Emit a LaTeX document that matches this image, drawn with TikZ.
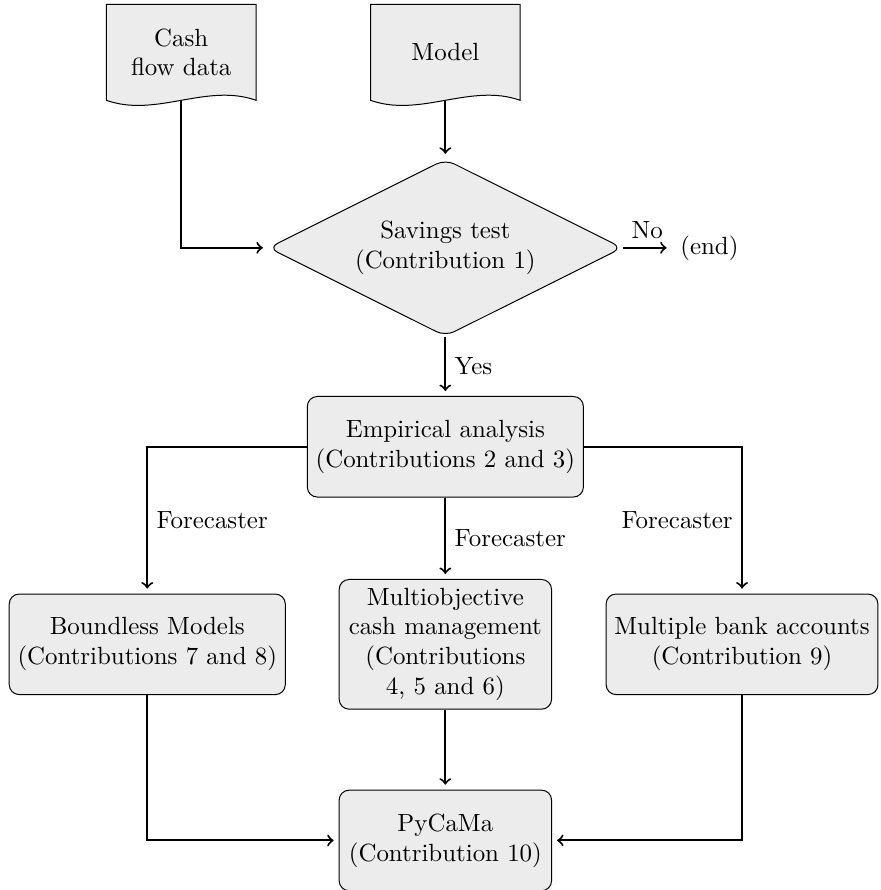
\documentclass[tikz,border=0pt]{standalone}
\usetikzlibrary{shapes.geometric,backgrounds}

\begin{document}
\begin{tikzpicture}[
    box/.style={draw, rounded corners=4pt, fill=gray!15, align=center,
        minimum width=3cm, minimum height=1.42cm},
    doc/.style={align=center, minimum width=2.1cm, minimum height=1.34cm},
    decision/.style={draw, diamond, aspect=2, rounded corners=4pt, fill=gray!15,
        align=center, inner sep=1pt, minimum width=5cm, minimum height=2.5cm},
    flow/.style={->, thick, shorten >=2pt}]
\useasboundingbox (0,0) rectangle (12.43,-12.57);

% the two inputs, drawn as documents
\node[doc] (cash)  at (2.56,-0.74) {Cash\\flow data};
\node[doc] (model) at (6.29,-0.74) {Model};
\begin{pgfonlayer}{background}
\foreach \d in {cash,model}
    \draw[fill=gray!15] (\d.south west) -- (\d.north west) -- (\d.north east)
        -- (\d.south east) .. controls +(-0.7,0.25) and +(0.7,-0.25) .. (\d.south west) -- cycle;
\end{pgfonlayer}

% the test
\node[decision] (test) at (6.29,-3.50) {Savings test\\(Contribution 1)};
\node (end) at (10.02,-3.50) {(end)};

% analysis and what follows from it
\node[box] (emp)    at (6.29,-6.31)  {Empirical analysis\\(Contributions 2 and 3)};
\node[box] (bound)  at (2.08,-9.10)  {Boundless Models\\(Contributions 7 and 8)};
\node[box] (multi)  at (6.29,-9.10)  {Multiobjective\\cash management\\(Contributions\\4, 5 and 6)};
\node[box] (bank)   at (10.48,-9.10) {Multiple bank accounts\\(Contribution 9)};
\node[box] (pycama) at (6.29,-11.87) {PyCaMa\\(Contribution 10)};

% connectors
\draw[flow] (cash) |- (test);
\draw[flow] (model) -- (test);
\draw[flow] (test) -- node[above] {No} (end);
\draw[flow] (test) -- node[right] {Yes} (emp);

\draw[flow] (emp) -| node[right, pos=0.75] {Forecaster} (bound);
\draw[flow] (emp) -- node[right] {Forecaster} (multi);
\draw[flow] (emp) -| node[left, pos=0.75] {Forecaster} (bank);

\draw[flow] (bound) |- (pycama);
\draw[flow] (multi) -- (pycama);
\draw[flow] (bank)  |- (pycama);

\end{tikzpicture}
\end{document}
